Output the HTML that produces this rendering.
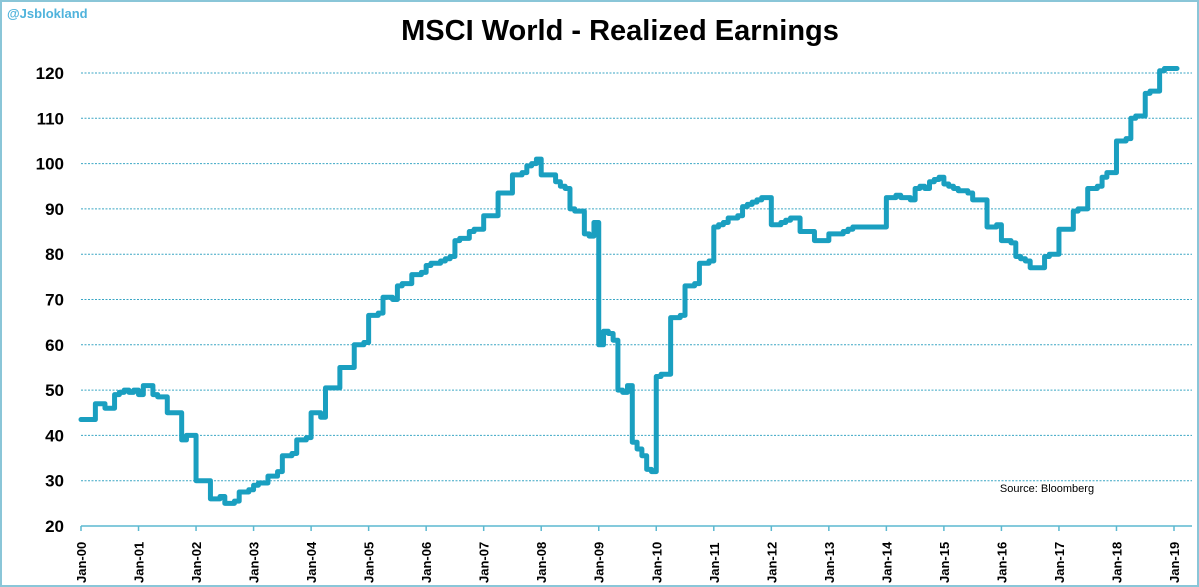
<!DOCTYPE html>
<html><head><meta charset="utf-8"><style>
body{margin:0;background:#fff;}
svg{display:block;font-family:"Liberation Sans",sans-serif;}
</style></head><body>
<svg id="chart" width="1199" height="587" viewBox="0 0 1199 587">
<rect x="1" y="1" width="1197" height="585" fill="#fff" stroke="#8ac6d8" stroke-width="2"/>
<text x="7" y="18" font-size="13" font-weight="bold" fill="#4fb3dc">@Jsblokland</text>
<text x="620" y="40" text-anchor="middle" font-size="29" font-weight="bold" fill="#000">MSCI World - Realized Earnings</text>
<text x="1047" y="492" text-anchor="middle" font-size="11" fill="#000">Source:  Bloomberg</text>
<g id="grid"></g><g id="yt"></g><g id="xt"></g><g id="series"></g>
</svg>
<script>
const yTicks=[20,30,40,50,60,70,80,90,100,110,120];
const xLabels=["Jan-00","Jan-01","Jan-02","Jan-03","Jan-04","Jan-05","Jan-06","Jan-07","Jan-08","Jan-09","Jan-10","Jan-11","Jan-12","Jan-13","Jan-14","Jan-15","Jan-16","Jan-17","Jan-18","Jan-19"];
const earnings=[
43.5,43.5,43.5,47,47,46,46,49,49.5,50,49.5,50,
49,51,51,49,48.5,48.5,45,45,45,39,40,40,
30,30,30,26,26,26.5,25,25,25.5,27.5,27.5,28,
29,29.5,29.5,31,31,32,35.5,35.5,36,39,39,39.5,
45,45,44,50.5,50.5,50.5,55,55,55,60,60,60.5,
66.5,66.5,67,70.5,70.5,70,73,73.5,73.5,75.5,75.5,76,
77.5,78,78,78.5,79,79.5,83,83.5,83.5,85,85.5,85.5,
88.5,88.5,88.5,93.5,93.5,93.5,97.5,97.5,98,99.5,100,101,
97.5,97.5,97.5,96,95,94.5,90,89.5,89.5,84.5,84,87,
60,63,62.5,61,50,49.5,51,38.5,37,35.5,32.5,32,
53,53.5,53.5,66,66,66.5,73,73,73.5,78,78,78.5,
86,86.5,87,88,88,88.5,90.5,91,91.5,92,92.5,92.5,
86.5,86.5,87,87.5,88,88,85,85,85,83,83,83,
84.5,84.5,84.5,85,85.5,86,86,86,86,86,86,86,
92.5,92.5,93,92.5,92.5,92,94.5,95,94.5,96,96.5,97,
95.5,95,94.5,94,94,93.5,92,92,92,86,86,86.5,
83,83,82.5,79.5,79,78.5,77,77,77,79.5,80,80,
85.5,85.5,85.5,89.5,90,90,94.5,94.5,95,97,98,98,
105,105,105.5,110,110.5,110.5,115.5,116,116,120.5,121,121,
121];
const NS="http://www.w3.org/2000/svg";
const X0=81,X1=1174,Y0=526,Y1=73;
function xs(m){return X0+(X1-X0)*m/228;}
function ys(v){return Y0-(v-20)*(Y0-Y1)/100;}
function mk(t,a,p){const e=document.createElementNS(NS,t);for(const k in a)e.setAttribute(k,a[k]);p.appendChild(e);return e;}
const g=document.getElementById('grid'),yt=document.getElementById('yt'),xt=document.getElementById('xt'),s=document.getElementById('series');
yTicks.forEach(v=>{
  if(v>20){const l=mk('line',{x1:X0,x2:1192,y1:ys(v),y2:ys(v),stroke:'#3aa6c4','stroke-width':1,'stroke-dasharray':'2,1.5'},g);
  
  }
  const t=mk('text',{x:64,y:ys(v)+6,'text-anchor':'end','font-size':17,'font-weight':'bold',fill:'#000'},yt);
  t.textContent=v;
  
  
});
const ax=mk('line',{x1:X0,x2:1192,y1:Y0,y2:Y0,stroke:'#5bb8d0','stroke-width':1.5},xt);


xLabels.forEach((lb,i)=>{
  const x=xs(i*12);
  mk('line',{x1:x,x2:x,y1:Y0,y2:Y0+5,stroke:'#5bb8d0','stroke-width':1.5},xt);
  const t=mk('text',{transform:`translate(${x+5},583) rotate(-90)`,'font-size':13,'font-weight':'bold',fill:'#000'},xt);
  t.textContent=lb;
  
  
});
let d='';
earnings.forEach((v,i)=>{
  const x=xs(i),y=ys(v);
  if(i===0)d+=`M${x},${y}`;else d+=`V${y}`;
  const xe=i<earnings.length-1?xs(i+1):xs(i)+3;
  d+=`H${xe}`;
});
const p=mk('path',{d:d,fill:'none',stroke:'#1a9fc0','stroke-width':5,'stroke-linejoin':'round','stroke-linecap':'round'},s);


</script>
</body></html>
